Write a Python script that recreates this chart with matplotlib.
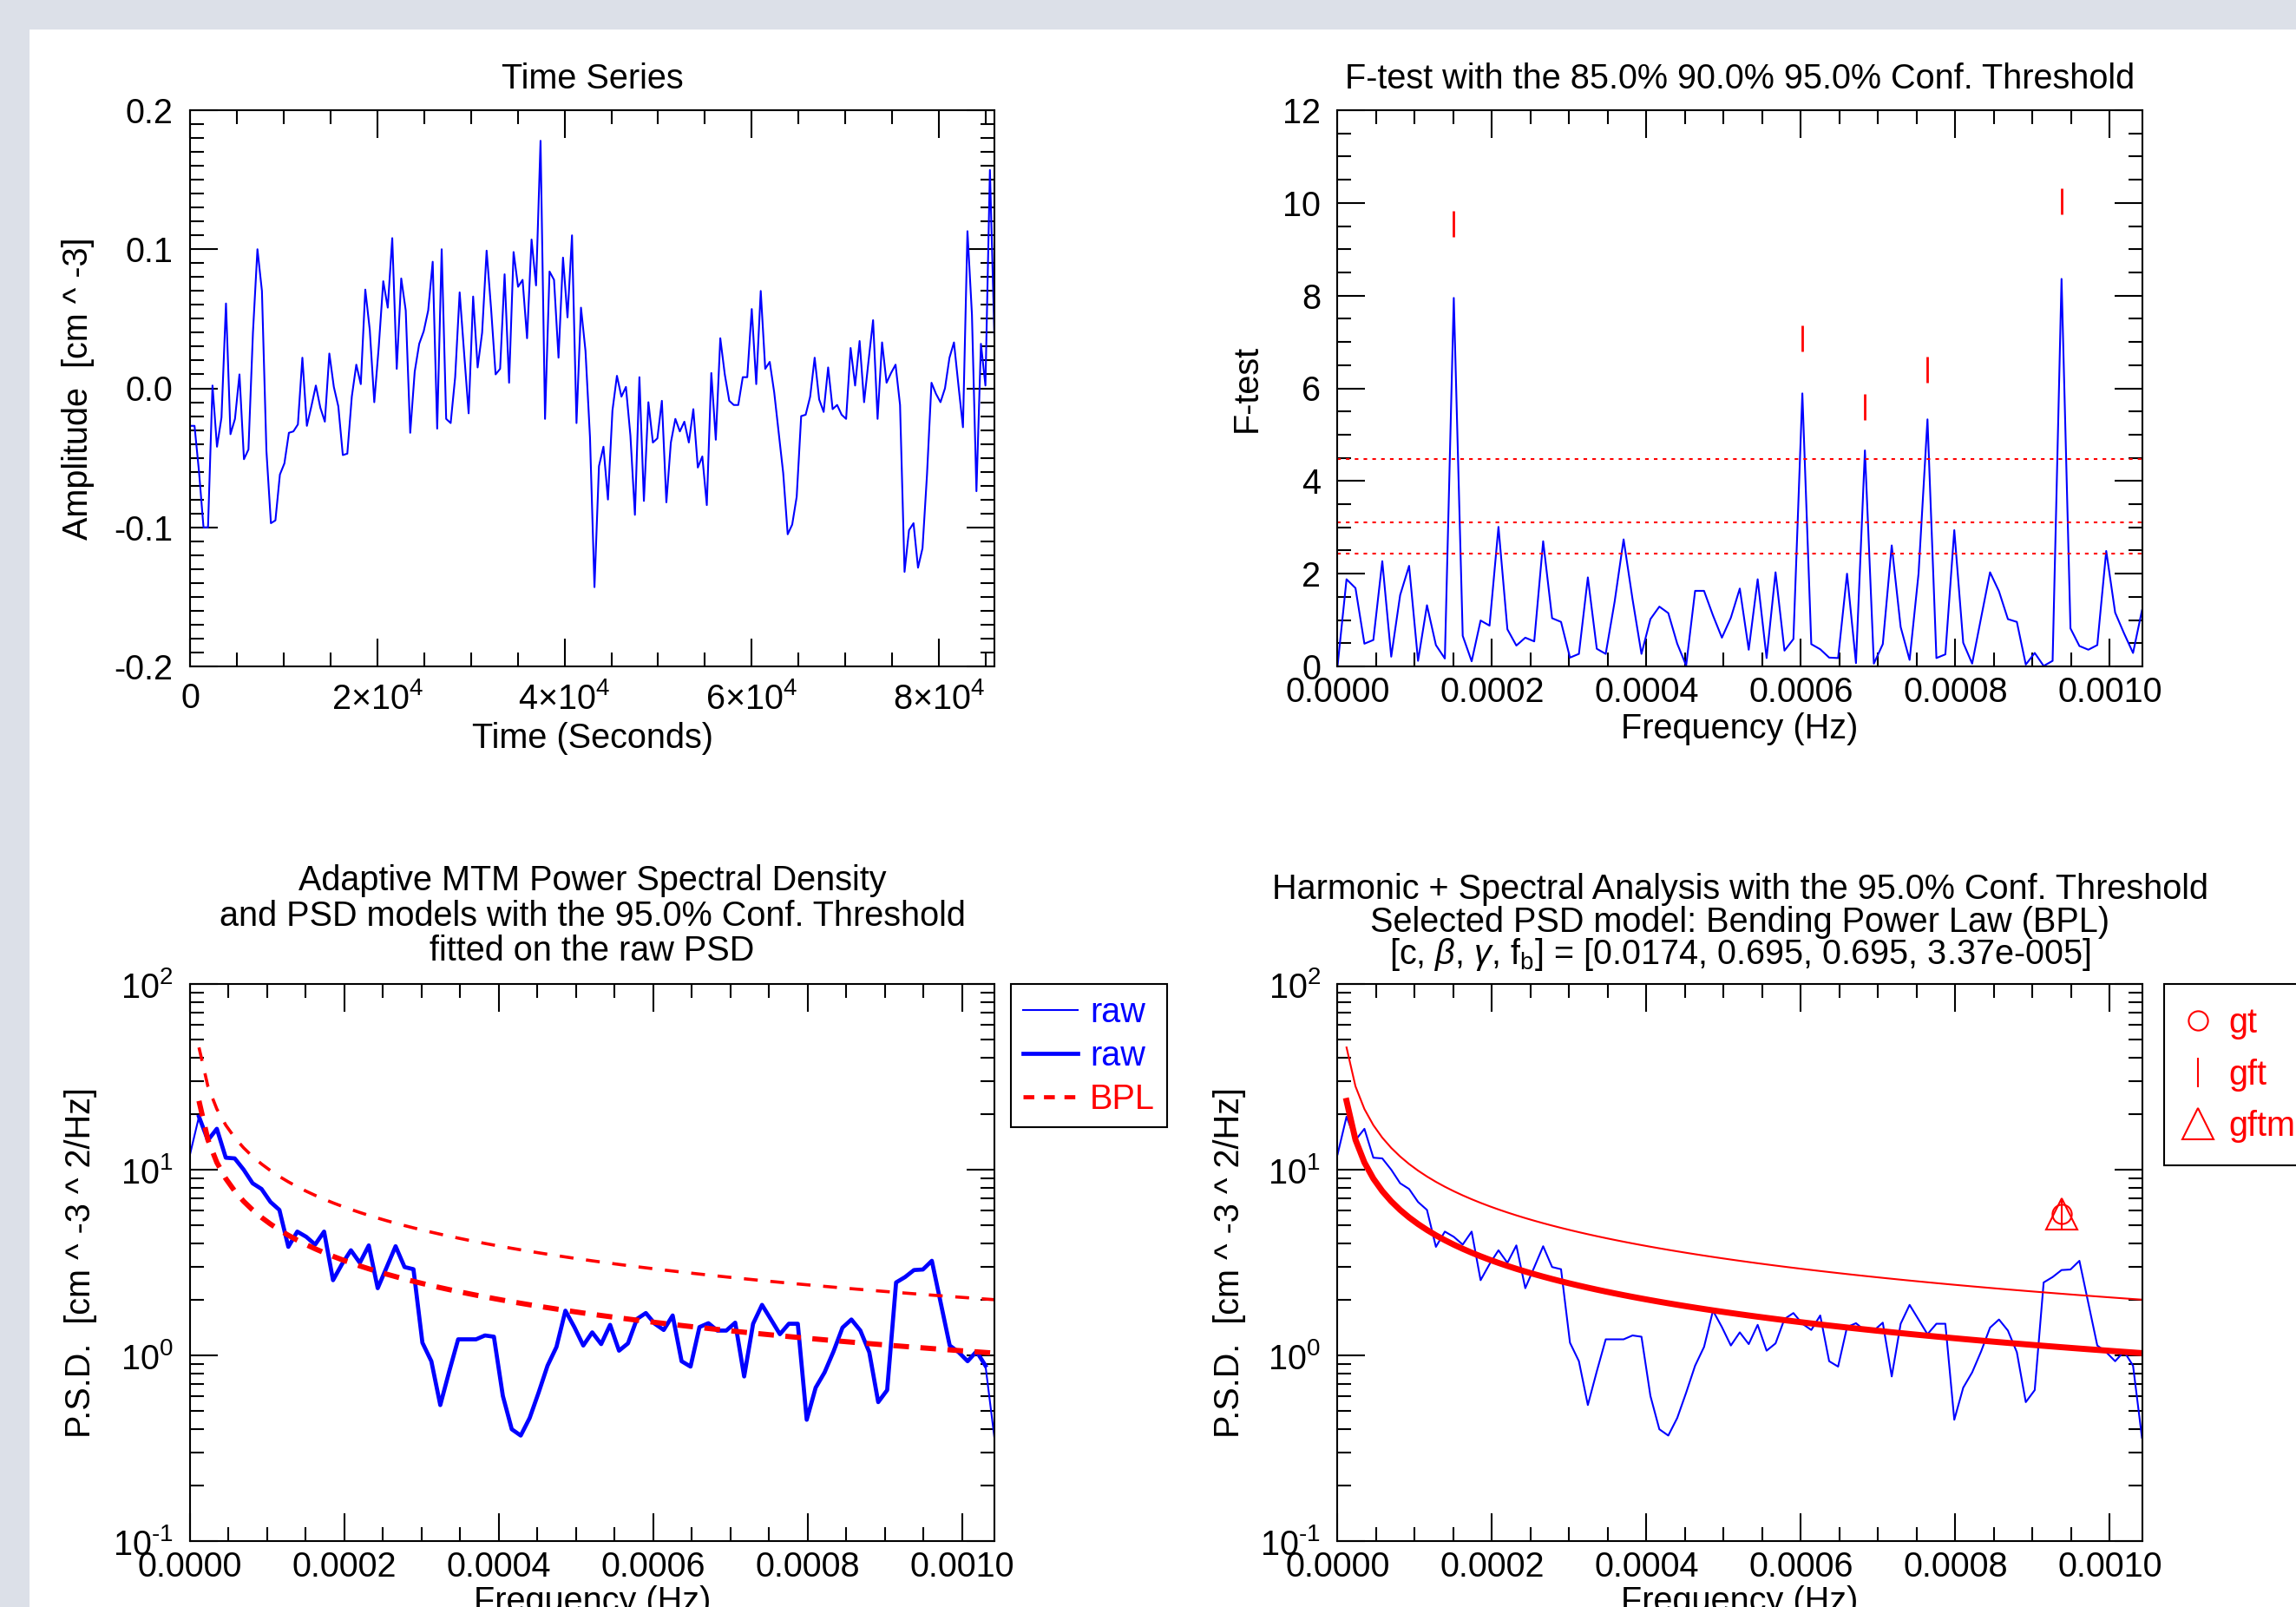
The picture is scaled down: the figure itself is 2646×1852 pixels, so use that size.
import numpy as np
import matplotlib
matplotlib.use('Agg')
import matplotlib.pyplot as plt
from matplotlib.ticker import MultipleLocator, LogLocator, FuncFormatter, NullFormatter
from matplotlib.patches import Rectangle
from matplotlib.lines import Line2D

# ---- data ----
n_samples = 180
dt = 480.0  # seconds

amplitude = [
    -0.027, -0.027, -0.060, -0.100, -0.100, 0.002, -0.042, -0.021, 0.061, -0.033,
    -0.022, 0.010, -0.051, -0.044, 0.040, 0.100, 0.070, -0.045, -0.097, -0.095,
    -0.062, -0.054, -0.032, -0.031, -0.026, 0.022, -0.027, -0.013, 0.002, -0.014,
    -0.024, 0.025, 0.001, -0.013, -0.048, -0.047, -0.006, 0.017, 0.003, 0.071,
    0.042, -0.010, 0.030, 0.077, 0.058, 0.108, 0.014, 0.079, 0.056, -0.032,
    0.012, 0.032, 0.041, 0.056, 0.091, -0.029, 0.100, -0.022, -0.025, 0.008,
    0.069, 0.025, -0.018, 0.066, 0.015, 0.040, 0.099, 0.057, 0.010, 0.014,
    0.082, 0.004, 0.098, 0.073, 0.078, 0.036, 0.107, 0.074, 0.178, -0.022,
    0.084, 0.078, 0.022, 0.094, 0.051, 0.110, -0.025, 0.058, 0.027, -0.035,
    -0.143, -0.056, -0.042, -0.080, -0.016, 0.009, -0.006, 0.001, -0.034, -0.091,
    0.008, -0.081, -0.010, -0.039, -0.036, -0.009, -0.082, -0.039, -0.022, -0.031,
    -0.024, -0.039, -0.015, -0.057, -0.049, -0.084, 0.011, -0.037, 0.036, 0.010,
    -0.009, -0.012, -0.012, 0.008, 0.008, 0.057, 0.003, 0.070, 0.014, 0.019,
    -0.003, -0.032, -0.061, -0.105, -0.098, -0.078, -0.020, -0.019, -0.006, 0.022,
    -0.008, -0.017, 0.015, -0.015, -0.012, -0.019, -0.022, 0.029, 0.002, 0.034,
    -0.010, 0.020, 0.049, -0.022, 0.033, 0.004, 0.011, 0.017, -0.012, -0.132,
    -0.102, -0.097, -0.129, -0.115, -0.062, 0.004, -0.004, -0.010, 0.000, 0.022,
    0.033, 0.002, -0.028, 0.113, 0.053, -0.074, 0.032, 0.002, 0.157, 0.037,
]

ftest = [
    0.02, 1.88, 1.69, 0.49, 0.57, 2.27, 0.21, 1.54, 2.17, 0.12,
    1.32, 0.46, 0.17, 7.95, 0.66, 0.11, 0.99, 0.88, 3.01, 0.80,
    0.45, 0.62, 0.54, 2.70, 1.04, 0.96, 0.19, 0.27, 1.92, 0.38,
    0.27, 1.40, 2.74, 1.45, 0.27, 1.02, 1.29, 1.15, 0.49, 0.02,
    1.63, 1.63, 1.10, 0.62, 1.05, 1.68, 0.36, 1.88, 0.18, 2.03,
    0.34, 0.59, 5.89, 0.48, 0.37, 0.19, 0.18, 2.00, 0.07, 4.66,
    0.06, 0.48, 2.61, 0.85, 0.14, 2.00, 5.33, 0.18, 0.26, 2.94,
    0.51, 0.06, 1.05, 2.03, 1.62, 1.02, 0.96, 0.04, 0.29, 0.01,
    0.12, 8.36, 0.82, 0.44, 0.36, 0.46, 2.49, 1.16, 0.71, 0.29,
    1.21,
]

psd_raw = [
    12.1, 19.3, 14.4, 16.6, 11.6, 11.5, 10.0, 8.45, 7.87, 6.70,
    6.07, 3.84, 4.64, 4.35, 3.95, 4.64, 2.54, 3.10, 3.68, 3.15,
    3.91, 2.30, 2.98, 3.87, 2.99, 2.91, 1.17, 0.93, 0.54, 0.82,
    1.22, 1.22, 1.22, 1.28, 1.26, 0.605, 0.40, 0.37, 0.46, 0.63,
    0.88, 1.11, 1.74, 1.42, 1.13, 1.33, 1.15, 1.46, 1.06, 1.16,
    1.57, 1.69, 1.48, 1.37, 1.64, 0.93, 0.87, 1.42, 1.49, 1.36,
    1.36, 1.50, 0.77, 1.48, 1.87, 1.56, 1.30, 1.48, 1.48, 0.45,
    0.67, 0.81, 1.05, 1.41, 1.56, 1.36, 1.04, 0.56, 0.65, 2.47,
    2.64, 2.88, 2.90, 3.23, 1.91, 1.13, 1.04, 0.93, 1.05, 0.88,
    0.36,
]

conf_levels = [2.43, 3.11, 4.47]          # 85%, 90%, 95% F-test thresholds
gft_bins = [13, 52, 59, 66, 81]            # significant F-test peaks
gft_marks = [9.55, 7.07, 5.60, 6.40, 10.04]
gftm_bin = 81
gftm_mark = 5.8

# BPL model parameters from the title, and 95% threshold factor
bpl_c, bpl_beta, bpl_gamma, bpl_fb = 0.0174, 0.695, 0.695, 3.37e-5
conf95_factor = 1.94

# ---- style ----
plt.rcParams['font.family'] = ['Liberation Sans', 'DejaVu Sans']
plt.rcParams['mathtext.fontset'] = 'custom'
plt.rcParams['mathtext.rm'] = 'Liberation Sans'
plt.rcParams['mathtext.it'] = 'Liberation Sans:italic'
plt.rcParams['axes.unicode_minus'] = False
plt.rcParams['font.size'] = 28.5
plt.rcParams['lines.scale_dashes'] = False

W, H = 2646, 1852
BLUE = (0, 0, 1)
RED = (1, 0, 0)


def px_box(left, top, right, bottom):
    return [left / W, (H - bottom) / H, (right - left) / W, (bottom - top) / H]


def style_axes(ax, xpad=8, ypad=14):
    ax.tick_params(which='both', direction='in', top=True, right=True,
                   width=1.5, color='black', labelsize=28.5)
    ax.tick_params(which='major', length=23)
    ax.tick_params(which='minor', length=11.5)
    ax.tick_params(axis='y', which='both', pad=ypad)
    ax.tick_params(axis='x', which='both', pad=xpad)
    for s in ax.spines.values():
        s.set_linewidth(1.5)


def title_lines(ax, lines, offsets_px):
    for txt, off in zip(lines, offsets_px):
        ax.annotate(txt, xy=(0.5, 1.0), xycoords='axes fraction',
                    xytext=(0, off * 0.72), textcoords='offset points',
                    ha='center', va='baseline', fontsize=28.5)


def freq_axis(ax):
    ax.set_xlim(0, nyquist)
    ax.xaxis.set_major_locator(MultipleLocator(0.0002))
    ax.xaxis.set_minor_locator(MultipleLocator(0.00005))
    ax.xaxis.set_major_formatter(FuncFormatter(lambda v, p: '%.4f' % v))


def pow10_label(v, p):
    e = int(round(np.log10(v)))
    if e < 0:
        return r'$\mathregular{10^{\text{%d}}}$' % e
    return r'$\mathregular{10^{%d}}$' % e


def log_psd_axis(ax):
    ax.set_yscale('log')
    ax.set_ylim(0.1, 100)
    ax.yaxis.set_major_locator(LogLocator(base=10, numticks=10))
    ax.yaxis.set_minor_locator(LogLocator(base=10, subs=np.arange(2, 10), numticks=20))
    ax.yaxis.set_minor_formatter(NullFormatter())
    ax.yaxis.set_major_formatter(FuncFormatter(pow10_label))


t = np.arange(n_samples) * dt
freqs = np.arange(len(psd_raw)) / (n_samples * dt)
nyquist = 0.5 / dt
psd_raw = np.array(psd_raw)
f_model = freqs[1:]
bpl_model = bpl_c * f_model ** (-bpl_beta) / (1 + (f_model / bpl_fb) ** (bpl_gamma - bpl_beta))
bpl_conf = bpl_model * conf95_factor

fig = plt.figure(figsize=(W / 100, H / 100), dpi=100)
fig.patch.set_facecolor('#dce0e8')
fig.patches.append(Rectangle((34 / W, 0), 1, (H - 34) / H, transform=fig.transFigure,
                             facecolor='white', edgecolor='none', zorder=-10))

# ---- Time series ----
ax1 = fig.add_axes(px_box(219, 127, 1146, 768))
ax1.plot(t, amplitude, color=BLUE, lw=1.5)
ax1.set_xlim(0, t[-1])
ax1.set_ylim(-0.2, 0.2)
ax1.xaxis.set_major_locator(MultipleLocator(20000))
ax1.xaxis.set_minor_locator(MultipleLocator(5000))
ax1.xaxis.set_major_formatter(FuncFormatter(
    lambda v, p: '0' if v == 0 else r'$\mathregular{%d{\times}10^{4}}$' % round(v / 1e4)))
ax1.yaxis.set_major_locator(MultipleLocator(0.1))
ax1.yaxis.set_minor_locator(MultipleLocator(0.01))
ax1.yaxis.set_major_formatter(FuncFormatter(lambda v, p: '%.1f' % v))
style_axes(ax1, xpad=13)
ax1.set_xlabel('Time (Seconds)')
ax1.xaxis.set_label_coords(0.5, -0.10)
ax1.set_ylabel('Amplitude  [cm ^ -3]')
ax1.yaxis.set_label_coords(-0.119, 0.5)
title_lines(ax1, ['Time Series'], [25])

# ---- F-test ----
ax2 = fig.add_axes(px_box(1541.5, 127, 2468.5, 768))
ax2.plot(freqs, ftest, color=BLUE, lw=1.5)
for lvl in conf_levels:
    ax2.axhline(lvl, color=RED, lw=1.5, dashes=(3, 4.3))
ax2.plot(freqs[gft_bins], gft_marks, ls='none', marker='|', ms=21, mew=2, color=RED)
freq_axis(ax2)
ax2.set_ylim(0, 12)
ax2.yaxis.set_major_locator(MultipleLocator(2))
ax2.yaxis.set_minor_locator(MultipleLocator(0.5))
style_axes(ax2)
ax2.set_xlabel('Frequency (Hz)')
ax2.xaxis.set_label_coords(0.5, -0.083)
ax2.set_ylabel('F-test')
ax2.yaxis.set_label_coords(-0.092, 0.5)
title_lines(ax2, ['F-test with the 85.0% 90.0% 95.0% Conf. Threshold'], [25])

# ---- Adaptive MTM PSD with models ----
ax3 = fig.add_axes(px_box(219, 1134, 1146, 1776))
l_thin, = ax3.plot(freqs, psd_raw, color=BLUE, lw=1.5)
l_thick, = ax3.plot(freqs[1:-1], psd_raw[1:-1], color=BLUE, lw=3.4)
ax3.plot(f_model, bpl_conf, color=RED, lw=2.6, dashes=(11.5, 10.5))
l_bpl, = ax3.plot(f_model, bpl_model, color=RED, lw=4.3, dashes=(13, 9.5))
freq_axis(ax3)
log_psd_axis(ax3)
style_axes(ax3)
ax3.set_xlabel('Frequency (Hz)')
ax3.xaxis.set_label_coords(0.5, -0.079)
ax3.set_ylabel('P.S.D.  [cm ^ -3 ^ 2/Hz]')
ax3.yaxis.set_label_coords(-0.115, 0.5)
title_lines(ax3, ['Adaptive MTM Power Spectral Density',
                  'and PSD models with the 95.0% Conf. Threshold',
                  'fitted on the raw PSD'], [108, 67, 27])
h_bpl = Line2D([], [], color=RED, lw=3.4, dashes=(9, 8))
leg3 = ax3.legend([l_thin, l_thick, h_bpl], ['raw', 'raw', 'BPL'],
                  loc='upper left', bbox_to_anchor=(1.0205, 1.0), borderaxespad=0,
                  fancybox=False, edgecolor='black', framealpha=1,
                  handlelength=1.6, handletextpad=0.35, labelspacing=0.3,
                  borderpad=0.35, fontsize=28.5, labelcolor=['blue', 'blue', 'red'])
leg3.get_frame().set_linewidth(1.5)

# ---- Harmonic + spectral analysis ----
ax4 = fig.add_axes(px_box(1541.5, 1134, 2468.5, 1776))
ax4.plot(freqs, psd_raw, color=BLUE, lw=1.5)
ax4.plot(f_model, bpl_conf, color=RED, lw=1.5)
ax4.plot(f_model, bpl_model, color=RED, lw=5)
ax4.plot(freqs[gftm_bin], gftm_mark, marker='^', ms=26, mfc='none', mec=RED, mew=1.5)
ax4.plot(freqs[gftm_bin], gftm_mark, marker='o', ms=16, mfc='none', mec=RED, mew=1.5)
ax4.plot(freqs[gftm_bin], gftm_mark, marker='|', ms=24, mec=RED, mew=1.5)
freq_axis(ax4)
log_psd_axis(ax4)
style_axes(ax4)
ax4.set_xlabel('Frequency (Hz)')
ax4.xaxis.set_label_coords(0.5, -0.079)
ax4.set_ylabel('P.S.D.  [cm ^ -3 ^ 2/Hz]')
ax4.yaxis.set_label_coords(-0.114, 0.5)
title_lines(ax4, ['Harmonic + Spectral Analysis with the 95.0% Conf. Threshold',
                  'Selected PSD model: Bending Power Law (BPL)',
                  r'[c, $\beta$, $\gamma$, f$_{\mathregular{b}}$] = '
                  '[%.4f, %.3f, %.3f, 3.37e-005]' % (bpl_c, bpl_beta, bpl_gamma)],
            [98, 60, 23])
mk = [Line2D([], [], ls='none', marker='o', ms=16, mfc='none', mec=RED, mew=1.5),
      Line2D([], [], ls='none', marker='|', ms=24, mec=RED, mew=1.5),
      Line2D([], [], ls='none', marker='^', ms=26, mfc='none', mec=RED, mew=1.5)]
leg4 = ax4.legend(mk, ['gt', 'gft', 'gftm'], loc='upper left',
                  bbox_to_anchor=(1.027, 1.0), borderaxespad=0,
                  fancybox=False, edgecolor='black', framealpha=1,
                  handlelength=0.7, handletextpad=0.55, labelspacing=0.55,
                  borderpad=0.65, fontsize=28.5, labelcolor='red')
leg4.get_frame().set_linewidth(1.5)

fig.savefig('out.png', dpi=100, facecolor=fig.get_facecolor())
